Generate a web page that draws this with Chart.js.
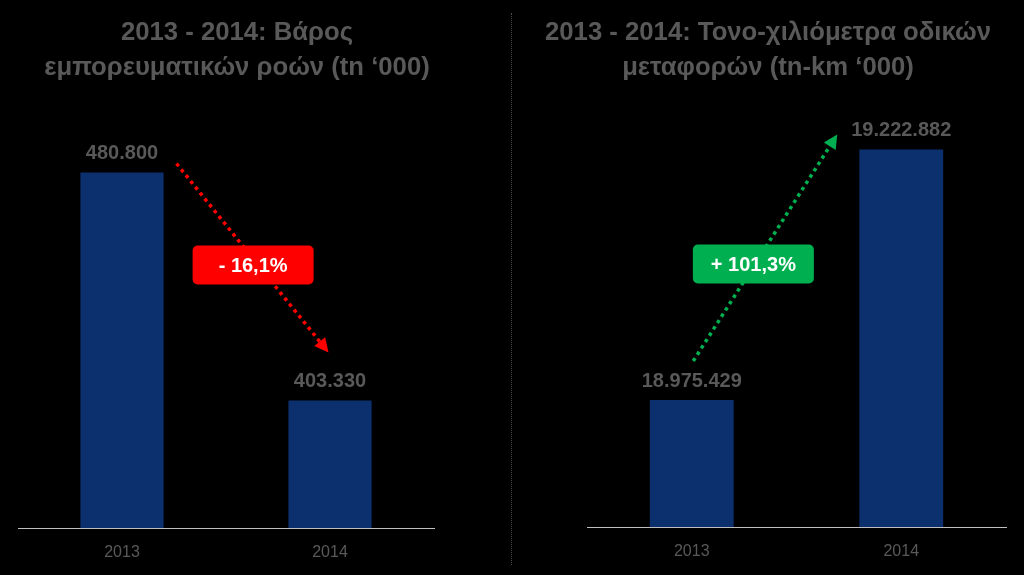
<!DOCTYPE html>
<html><head><meta charset="utf-8">
<script src="https://cdn.jsdelivr.net/npm/chart.js@4.4.1/dist/chart.umd.min.js"></script>
<style>
html,body{margin:0;padding:0;background:#000;width:1024px;height:575px;overflow:hidden}
#w1{position:absolute;left:0;top:0;width:474px;height:575px}
#w2{position:absolute;left:512px;top:0;width:512px;height:575px}
#sep{position:absolute;left:511px;top:13px;height:552px;border-left:1px dotted #4a4a4a}
</style></head><body>
<div id="w1"><canvas id="c1"></canvas></div>
<div id="sep"></div>
<div id="w2"><canvas id="c2"></canvas></div>
<script>
const years = ['2013', '2014'];
const weightValues = [480800, 403330];
const tonKmValues = [18975429, 19222882];
const weightTitle = ['2013 - 2014: Βάρος', 'εμπορευματικών ροών (tn ‘000)'];
const tonKmTitle = ['2013 - 2014: Τονο-χιλιόμετρα οδικών', 'μεταφορών (tn-km ‘000)'];
const weightChange = '- 16,1%';
const tonKmChange = '+ 101,3%';
const weightAxisRange = [360000, 500000];
const tonKmAxisRange = [18850000, 19256000];

const FONT = "'Liberation Sans', Arial, sans-serif";
const GRAY = '#595959';
const BAR = '#0c2f6e';

function fmt(v) {
  return String(Math.round(v)).replace(/\B(?=(\d{3})+(?!\d))/g, '.');
}

const valueLabels = {
  id: 'valueLabels',
  afterDatasetsDraw(chart) {
    const ctx = chart.ctx;
    const ds = chart.data.datasets[0];
    chart.getDatasetMeta(0).data.forEach((el, i) => {
      ctx.save();
      ctx.font = 'bold 20px ' + FONT;
      ctx.fillStyle = GRAY;
      ctx.textAlign = 'center';
      ctx.textBaseline = 'middle';
      ctx.fillText(fmt(ds.data[i]), el.x, el.y - 19);
      ctx.restore();
    });
  }
};

const changeArrow = {
  id: 'changeArrow',
  afterDatasetsDraw(chart, args, o) {
    const meta = chart.getDatasetMeta(0);
    const a = meta.data[0], b = meta.data[1];
    const sx = a.x + o.sdx, sy = a.y + o.sdy;
    const ex = b.x + o.edx, ey = b.y + o.edy;
    const ctx = chart.ctx;
    const len = Math.hypot(ex - sx, ey - sy);
    const ux = (ex - sx) / len, uy = (ey - sy) / len;
    const head = 14, hw = 7;
    const bx = ex - ux * head, by = ey - uy * head;
    ctx.save();
    ctx.strokeStyle = o.color;
    ctx.lineWidth = 3.5;
    ctx.setLineDash([3.5, 4]);
    ctx.beginPath();
    ctx.moveTo(sx, sy);
    ctx.lineTo(bx, by);
    ctx.stroke();
    ctx.setLineDash([]);
    ctx.fillStyle = o.color;
    ctx.beginPath();
    ctx.moveTo(ex, ey);
    ctx.lineTo(bx - uy * hw, by + ux * hw);
    ctx.lineTo(bx + uy * hw, by - ux * hw);
    ctx.closePath();
    ctx.fill();
    const cx = sx + (ex - sx) * o.t + o.boxDx;
    const cy = sy + (ey - sy) * o.t;
    const w = 121, h = 39;
    ctx.beginPath();
    ctx.roundRect(cx - w / 2, cy - h / 2, w, h, 5);
    ctx.fill();
    ctx.fillStyle = '#ffffff';
    ctx.font = 'bold 20px ' + FONT;
    ctx.textAlign = 'center';
    ctx.textBaseline = 'middle';
    ctx.fillText(o.text, cx, cy + 1);
    ctx.restore();
  }
};

function makeChart(id, values, title, range, leftW, rightW, axisH, arrow) {
  return new Chart(document.getElementById(id), {
    type: 'bar',
    data: {
      labels: years,
      datasets: [{
        data: values,
        backgroundColor: BAR,
        borderWidth: 0,
        categoryPercentage: 0.8,
        barPercentage: 0.5
      }]
    },
    options: {
      responsive: true,
      maintainAspectRatio: false,
      animation: false,
      events: [],
      layout: { padding: 0 },
      scales: {
        x: {
          grid: { display: false, drawTicks: false },
          border: { display: true, color: '#bfbfbf', width: 1 },
          ticks: { color: GRAY, font: { family: FONT, size: 16 }, padding: 15 },
          afterFit: s => { s.height = axisH; }
        },
        y: {
          type: 'linear',
          position: 'left',
          min: range[0], max: range[1],
          ticks: { display: false },
          grid: { display: false, drawTicks: false },
          border: { display: false },
          afterFit: s => { s.width = leftW; }
        },
        y2: {
          type: 'linear',
          position: 'right',
          ticks: { display: false },
          grid: { display: false, drawTicks: false },
          border: { display: false },
          afterFit: s => { s.width = rightW; }
        }
      },
      plugins: {
        legend: { display: false },
        tooltip: { enabled: false },
        title: {
          display: true,
          text: title,
          color: GRAY,
          font: { family: FONT, size: 25.7, weight: 'bold', lineHeight: 35 / 25.7 },
          padding: { top: 15, bottom: 31 }
        },
        changeArrow: arrow
      }
    },
    plugins: [valueLabels, changeArrow]
  });
}

makeChart('c1', weightValues, weightTitle, weightAxisRange, 18, 40, 47,
  { sdx: 54.5, sdy: -9, edx: -1.5, edy: -48, t: 0.537, boxDx: -5, color: '#ff0000', text: weightChange });
makeChart('c2', tonKmValues, tonKmTitle, tonKmAxisRange, 75, 18, 48,
  { sdx: 1.5, sdy: -39, edx: -64, edy: -15, t: 0.428, boxDx: -1.5, color: '#00b050', text: tonKmChange });
</script>
</body></html>
